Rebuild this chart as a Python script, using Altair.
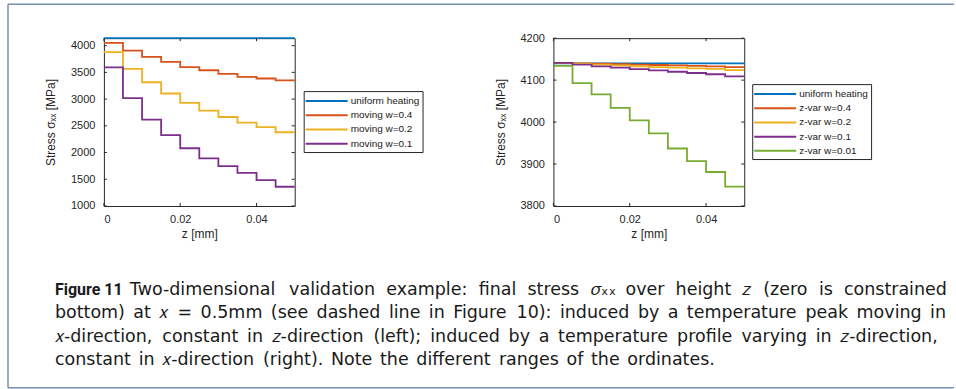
import altair as alt
import pandas as pd

# z positions of the layer boundaries [mm]
z_edges = [0.0, 0.005, 0.01, 0.015, 0.02, 0.025, 0.03, 0.035, 0.04, 0.045, 0.05]

# left panel: temperature peak moving in x-direction
left_names = ["uniform heating", "moving w=0.4", "moving w=0.2", "moving w=0.1"]
left_uniform = [4140, 4140, 4140, 4140, 4140, 4140, 4140, 4140, 4140, 4140]
left_w04 = [4050, 3905, 3790, 3695, 3600, 3540, 3470, 3415, 3385, 3350]
left_w02 = [3880, 3565, 3315, 3105, 2930, 2785, 2665, 2560, 2475, 2380]
left_w01 = [3595, 3020, 2615, 2325, 2080, 1890, 1745, 1620, 1485, 1360]

# right panel: temperature profile varying in z-direction
right_names = ["uniform heating", "z-var w=0.4", "z-var w=0.2", "z-var w=0.1", "z-var w=0.01"]
right_uniform = [4140, 4140, 4140, 4140, 4140, 4140, 4140, 4140, 4140, 4140]
right_w04 = [4141, 4140, 4139, 4138, 4137, 4136, 4135, 4134, 4133, 4131]
right_w02 = [4141, 4139, 4137, 4135, 4133, 4131, 4130, 4128, 4127, 4124]
right_w01 = [4141, 4137, 4133, 4130, 4126, 4123, 4120, 4117, 4114, 4109]
right_w001 = [4134, 4093, 4066, 4034, 4004, 3973, 3937, 3907, 3881, 3846]

colors = ["#0072BD", "#D95319", "#EDB120", "#7E2F8E", "#77AC30"]

x_ticks = [0, 0.02, 0.04]
left_y_ticks = [1000, 1500, 2000, 2500, 3000, 3500, 4000]
right_y_ticks = [3800, 3900, 4000, 4100, 4200]

caption_label = "Figure 11"
caption_lines = [
    "Two-dimensional validation example: final stress 𝜎ₓₓ over height 𝑧 (zero is constrained",
    "bottom) at 𝑥 = 0.5mm (see dashed line in Figure 10): induced by a temperature peak moving in",
    "𝑥-direction, constant in 𝑧-direction (left); induced by a temperature profile varying in 𝑧-direction,",
    "constant in 𝑥-direction (right). Note the different ranges of the ordinates.",
]

W, H = 191, 168
AX_FONT = "Liberation Sans"
INK = "#262626"


def stairs(names, series):
    rows = []
    for name, vals in zip(names, series):
        for i, v in enumerate(vals):
            rows.append({"series": name, "z": z_edges[i], "stress": v})
        rows.append({"series": name, "z": z_edges[-1], "stress": vals[-1]})
    return pd.DataFrame(rows)


def panel(df, names, ydom, yticks, lx, ly, extra=()):
    xs = alt.Scale(domain=[0, 0.05], nice=False, zero=False)
    ys = alt.Scale(domain=ydom, nice=False, zero=False)
    x_axis = alt.Axis(values=x_ticks, format="~g", title="z [mm]", domain=False, ticks=False,
                      grid=False, labelPadding=8, titlePadding=4)
    y_axis = alt.Axis(values=yticks, format="d", title="Stress  σₓₓ [MPa]", domain=False,
                      ticks=False, grid=False, labelPadding=9, titlePadding=13)
    lines = alt.Chart(df).mark_line(interpolate="step-after", strokeWidth=1.8).encode(
        x=alt.X("z:Q", scale=xs, axis=x_axis),
        y=alt.Y("stress:Q", scale=ys, axis=y_axis),
        color=alt.Color("series:N",
                        scale=alt.Scale(domain=names, range=colors[:len(names)]),
                        legend=alt.Legend(title=None, orient="none", legendX=lx, legendY=ly,
                                          symbolType="M-3.5,0H3.5", symbolSize=144,
                                          symbolStrokeWidth=2, symbolOffset=13,
                                          labelFont=AX_FONT, labelFontSize=10,
                                          labelColor="#1a1a1a", labelOffset=17,
                                          strokeColor=INK, fillColor="white",
                                          padding=3, rowPadding=2.2)),
    )
    # inward tick marks on all four sides of the box
    xt = pd.DataFrame({"z": x_ticks})
    yt = pd.DataFrame({"stress": yticks})
    tick_style = dict(color=INK, strokeWidth=1)
    bottom = alt.Chart(xt).mark_rule(**tick_style).encode(
        x=alt.X("z:Q", scale=xs, axis=x_axis), y=alt.value(H), y2=alt.value(H - 3))
    top = alt.Chart(xt).mark_rule(**tick_style).encode(
        x=alt.X("z:Q", scale=xs, axis=x_axis), y=alt.value(0), y2=alt.value(3))
    left = alt.Chart(yt).mark_rule(**tick_style).encode(
        y=alt.Y("stress:Q", scale=ys, axis=y_axis), x=alt.value(0), x2=alt.value(3))
    right = alt.Chart(yt).mark_rule(**tick_style).encode(
        y=alt.Y("stress:Q", scale=ys, axis=y_axis), x=alt.value(W - 3), x2=alt.value(W))
    return alt.layer(lines, bottom, top, left, right, *extra).properties(width=W, height=H)


# ---- caption (justified text block below the panels, frame around the figure) ----
CAP_SIZE = 17.5
EM = {
    "a": .613, "b": .635, "c": .550, "d": .635, "e": .615, "f": .352, "g": .635, "h": .634,
    "i": .278, "j": .278, "k": .579, "l": .278, "m": .974, "n": .634, "o": .612, "p": .635,
    "q": .635, "r": .411, "s": .521, "t": .392, "u": .634, "v": .592, "w": .818, "x": .592,
    "y": .592, "z": .525, ".": .318, ",": .318, ":": .337, ";": .337, "(": .390, ")": .390,
    "-": .361, "=": .838, "F": .575, "T": .611, "N": .748, "ₓ": .40,
}


def word_width(word):
    return sum(EM.get(ch, .636 if ch.isdigit() else .56) for ch in word) * CAP_SIZE


def justified(text, x0, x1):
    words = text.split(" ")
    widths = [word_width(w) for w in words]
    gap = (x1 - x0 - sum(widths)) / (len(words) - 1)
    out, x = [], x0
    for w, wd in zip(words, widths):
        out.append((w, x))
        x += wd + gap
    return out


# origin of the left plot area in page pixels
OX, OY = 103, 37
line_spans = [(129, 947), (54, 946), (54, 939), (54, 715)]
line_mid = [289, 312, 336, 359]

one = pd.DataFrame({"k": [0]})
cap_style = dict(font="DejaVu Sans", fontSize=CAP_SIZE, color="#1a1a1a", align="left",
                 baseline="middle")
cap_layers = [
    alt.Chart(one).mark_text(font="Roboto", fontSize=16, fontWeight="bold", color="#1a1a1a",
                             align="left", baseline="middle").encode(
        x=alt.value(54 - OX), y=alt.value(line_mid[0] - OY), text=alt.value(caption_label))
]
for txt, (x0, x1), ym in zip(caption_lines, line_spans, line_mid):
    for word, xw in justified(txt, x0, x1):
        cap_layers.append(alt.Chart(one).mark_text(**cap_style).encode(
            x=alt.value(round(xw - OX, 1)), y=alt.value(ym - OY), text=alt.value(word)))

frame = dict(color="#7590b0", strokeWidth=1.5)
cap_layers += [
    alt.Chart(one).mark_rule(**frame).encode(
        x=alt.value(7 - OX), x2=alt.value(954 - OX), y=alt.value(3 - OY)),
    alt.Chart(one).mark_rule(**frame).encode(
        x=alt.value(7 - OX), x2=alt.value(954 - OX), y=alt.value(387 - OY)),
    alt.Chart(one).mark_rule(**frame).encode(
        x=alt.value(7 - OX), y=alt.value(3 - OY), y2=alt.value(387 - OY)),
]

left_df = stairs(left_names, [left_uniform, left_w04, left_w02, left_w01])
right_df = stairs(right_names, [right_uniform, right_w04, right_w02, right_w01, right_w001])

left_panel = panel(left_df, left_names, [1000, 4140], left_y_ticks, 200, 53, cap_layers)
right_panel = panel(right_df, right_names, [3800, 4200], right_y_ticks, 199, 46)

chart = alt.hconcat(left_panel, right_panel, spacing=259, bounds="flush").resolve_scale(
    color="independent", x="independent", y="independent"
).resolve_legend(color="independent").properties(
    padding={"left": 6, "top": 2, "right": 0, "bottom": 0}, background="white"
).configure_view(stroke=INK, strokeWidth=1).configure_axis(
    labelFont=AX_FONT, labelFontSize=11, labelColor=INK,
    titleFont=AX_FONT, titleFontSize=12, titleFontWeight="normal", titleColor=INK,
)

chart.save("out.html", embed_options={"renderer": "svg", "actions": False})
